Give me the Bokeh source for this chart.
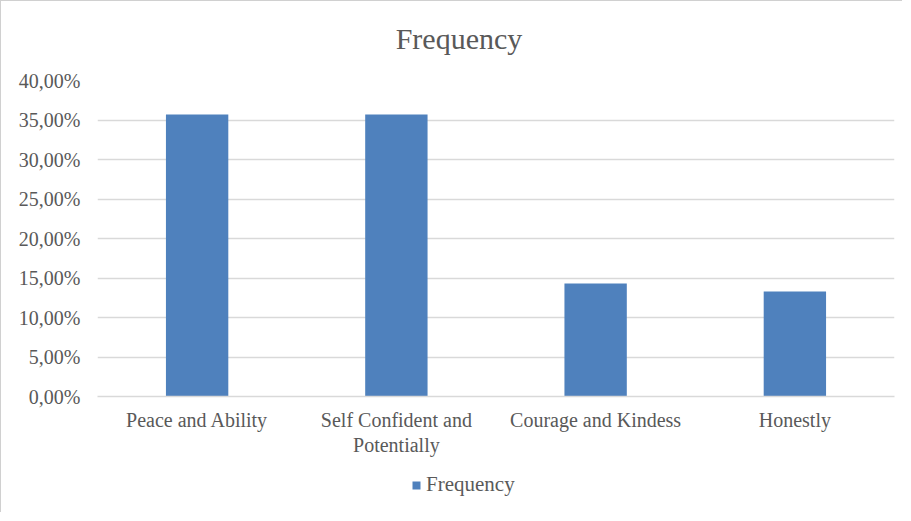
from bokeh.plotting import figure
from bokeh.layouts import column
from bokeh.models import (FactorRange, Range1d, FixedTicker, Label, Legend,
                          LegendItem, ColumnDataSource)
from bokeh.embed import file_html
from bokeh.resources import INLINE

# ---- data ----
categories = ["Peace and Ability", "Self Confident and\nPotentially",
              "Courage and Kindess", "Honestly"]
frequency = [35.71, 35.71, 14.29, 13.29]
y_ticks = [0, 5, 10, 15, 20, 25, 30, 35, 40]
y_tick_labels = ["0,00%", "5,00%", "10,00%", "15,00%", "20,00%",
                 "25,00%", "30,00%", "35,00%", "40,00%"]
series_name = "Frequency"
chart_title = "Frequency"

TEXT = "#595959"
GRID = "#d9d9d9"
BAR = "#4f81bd"
FONT = "Liberation Serif"
EDGE = "1px solid #d0d0d0"

# ---- title strip ----
head = figure(width=902, height=60, output_backend="svg", toolbar_location=None,
              x_axis_type=None, y_axis_type=None, min_border=0,
              x_range=Range1d(0, 1), y_range=Range1d(0, 1))
head.outline_line_color = None
head.xgrid.grid_line_color = None
head.ygrid.grid_line_color = None
head.styles = {"border-left": EDGE, "border-top": EDGE}
head.add_layout(Label(x=361.5, y=23, x_units="screen", y_units="screen",
                      text=chart_title, text_align="center",
                      text_baseline="alphabetic", text_font=FONT,
                      text_font_size="30px", text_color=TEXT))

# ---- main chart ----
src = ColumnDataSource(dict(cat=categories, val=frequency))

plot = figure(width=902, height=411, output_backend="svg", toolbar_location=None,
              x_range=FactorRange(*categories), y_range=Range1d(0, 40),
              min_border_left=96, min_border_right=9, min_border_top=20,
              min_border_bottom=75)
plot.title = None
plot.outline_line_color = None
plot.background_fill_color = "white"
plot.border_fill_color = "white"
plot.styles = {"border-left": EDGE}

r = plot.vbar(x="cat", top="val", width=0.313, source=src, fill_color=BAR,
              line_color=None)

# y axis
plot.yaxis.ticker = FixedTicker(ticks=y_ticks)
plot.yaxis.major_label_overrides = {t: l for t, l in zip(y_ticks, y_tick_labels)}
plot.yaxis.axis_line_color = None
plot.yaxis.major_tick_line_color = None
plot.yaxis.minor_tick_line_color = None
plot.yaxis.major_tick_out = 0
plot.yaxis.minor_tick_out = 0
plot.yaxis.major_label_standoff = 17
plot.yaxis.major_label_text_font = FONT
plot.yaxis.major_label_text_font_size = "20px"
plot.yaxis.major_label_text_color = TEXT

# x axis
plot.xaxis.axis_line_color = GRID
plot.xaxis.axis_line_width = 1.5
plot.xaxis.major_tick_line_color = None
plot.xaxis.minor_tick_line_color = None
plot.xaxis.major_tick_out = 0
plot.xaxis.minor_tick_out = 0
plot.xaxis.major_label_standoff = 12
plot.xaxis.major_label_text_font = FONT
plot.xaxis.major_label_text_font_size = "20px"
plot.xaxis.major_label_text_color = TEXT
plot.xaxis.major_label_text_line_height = 1.15

plot.xgrid.grid_line_color = None
plot.ygrid.grid_line_color = GRID
plot.ygrid.grid_line_width = 1.5

# ---- legend strip ----
leg = figure(width=902, height=41, output_backend="svg", toolbar_location=None,
             x_axis_type=None, y_axis_type=None, min_border=0,
             x_range=Range1d(0, 1), y_range=Range1d(0, 1))
leg.outline_line_color = None
leg.xgrid.grid_line_color = None
leg.ygrid.grid_line_color = None
leg.styles = {"border-left": EDGE}
lr = leg.vbar(x=[0], top=[0], bottom=[0], width=0.001, fill_color=BAR,
              line_color=None)
legend = Legend(items=[LegendItem(label=series_name, renderers=[lr])],
                orientation="horizontal", location=(314, 15),
                border_line_color=None, background_fill_alpha=0,
                label_text_font=FONT, label_text_font_size="21px",
                label_text_color=TEXT, glyph_width=10, glyph_height=10,
                label_standoff=5, padding=0, margin=0)
leg.add_layout(legend, "center")

p = column(head, plot, leg, spacing=0)

open("out.html", "w").write(file_html(p, INLINE))
